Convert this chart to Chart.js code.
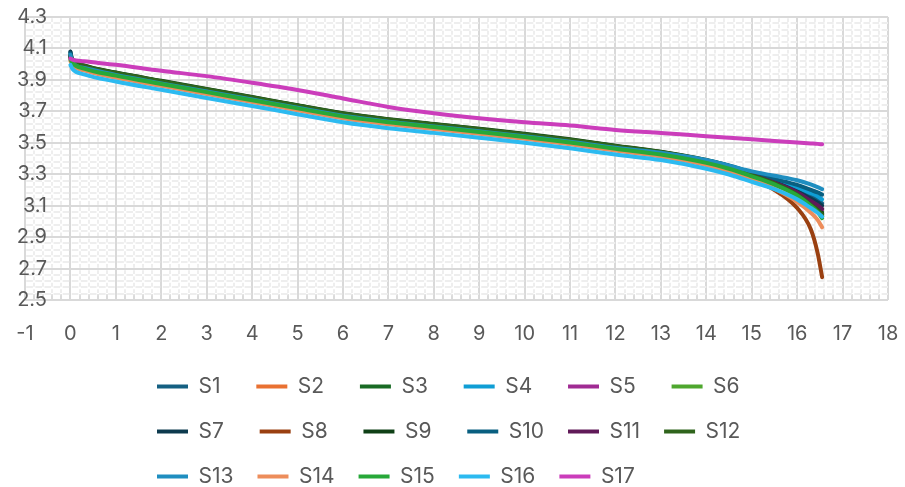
<!DOCTYPE html>
<html lang="en">
<head>
<meta charset="UTF-8">
<title>S1-S17</title>
<script src="https://cdn.jsdelivr.net/npm/chart.js@4/dist/chart.umd.min.js"></script>
<style>
  html, body { margin: 0; padding: 0; background: #fff; }
  .box { width: 905px; height: 487px; }
</style>
</head>
<body>
<div class="box"><canvas id="myChart"></canvas></div>
<script>
// x positions shared by all series
var xs = [0, 0.05, 0.3, 1, 2, 3, 4, 5, 6, 7, 8, 9, 10, 11, 12, 13, 14, 14.5, 15, 15.5, 16, 16.3, 16.45, 16.55];

var names = ["S1", "S2", "S3", "S4", "S5", "S6", "S7", "S8", "S9", "S10", "S11", "S12", "S13", "S14", "S15", "S16", "S17"];

var s1  = [4.078, 4.009, 3.976, 3.931, 3.878, 3.826, 3.775, 3.723, 3.672, 3.634, 3.604, 3.573, 3.541, 3.506, 3.466, 3.431, 3.385, 3.352, 3.300, 3.255, 3.200, 3.160, 3.138, 3.115];
var s2  = [4.045, 4.007, 3.974, 3.929, 3.876, 3.824, 3.773, 3.721, 3.670, 3.632, 3.602, 3.571, 3.539, 3.504, 3.464, 3.427, 3.375, 3.338, 3.288, 3.235, 3.160, 3.095, 3.060, 3.030];
var s3  = [4.050, 4.021, 3.988, 3.943, 3.890, 3.838, 3.787, 3.735, 3.684, 3.646, 3.616, 3.585, 3.553, 3.518, 3.478, 3.440, 3.386, 3.348, 3.296, 3.245, 3.180, 3.120, 3.090, 3.060];
var s4  = [4.060, 4.007, 3.974, 3.929, 3.876, 3.824, 3.773, 3.721, 3.670, 3.632, 3.602, 3.571, 3.539, 3.504, 3.464, 3.430, 3.382, 3.352, 3.305, 3.262, 3.215, 3.180, 3.160, 3.140];
var s5  = [4.050, 4.009, 3.976, 3.931, 3.878, 3.826, 3.775, 3.723, 3.672, 3.634, 3.604, 3.573, 3.541, 3.506, 3.466, 3.429, 3.380, 3.344, 3.294, 3.243, 3.180, 3.125, 3.098, 3.075];
var s6  = [4.040, 4.005, 3.972, 3.927, 3.874, 3.822, 3.771, 3.719, 3.668, 3.630, 3.600, 3.569, 3.537, 3.502, 3.462, 3.425, 3.374, 3.337, 3.289, 3.237, 3.168, 3.105, 3.068, 3.035];
var s7  = [4.080, 4.011, 3.978, 3.933, 3.880, 3.828, 3.777, 3.725, 3.674, 3.636, 3.606, 3.575, 3.543, 3.508, 3.468, 3.432, 3.386, 3.350, 3.298, 3.250, 3.190, 3.145, 3.120, 3.100];
var s8  = [4.040, 4.001, 3.968, 3.923, 3.870, 3.818, 3.767, 3.715, 3.664, 3.626, 3.596, 3.565, 3.533, 3.498, 3.458, 3.421, 3.366, 3.322, 3.265, 3.200, 3.085, 2.950, 2.800, 2.645];
var s9  = [4.055, 4.025, 3.992, 3.947, 3.894, 3.842, 3.791, 3.739, 3.688, 3.650, 3.620, 3.589, 3.557, 3.522, 3.482, 3.443, 3.390, 3.352, 3.298, 3.245, 3.175, 3.110, 3.078, 3.050];
var s10 = [4.070, 4.009, 3.976, 3.931, 3.878, 3.826, 3.775, 3.723, 3.672, 3.634, 3.604, 3.573, 3.541, 3.506, 3.466, 3.432, 3.388, 3.356, 3.310, 3.270, 3.232, 3.200, 3.184, 3.170];
var s11 = [4.050, 4.009, 3.976, 3.931, 3.878, 3.826, 3.775, 3.723, 3.672, 3.634, 3.604, 3.573, 3.541, 3.506, 3.466, 3.429, 3.382, 3.346, 3.296, 3.246, 3.185, 3.130, 3.103, 3.080];
var s12 = [4.055, 4.023, 3.990, 3.945, 3.892, 3.840, 3.789, 3.737, 3.686, 3.648, 3.618, 3.587, 3.555, 3.520, 3.480, 3.441, 3.388, 3.350, 3.296, 3.242, 3.170, 3.105, 3.072, 3.045];
var s13 = [4.060, 4.009, 3.976, 3.931, 3.878, 3.826, 3.775, 3.723, 3.672, 3.634, 3.604, 3.573, 3.541, 3.506, 3.468, 3.436, 3.390, 3.355, 3.318, 3.290, 3.262, 3.235, 3.218, 3.205];
var s14 = [4.020, 3.993, 3.960, 3.915, 3.862, 3.810, 3.759, 3.707, 3.656, 3.618, 3.588, 3.557, 3.525, 3.490, 3.450, 3.412, 3.358, 3.318, 3.268, 3.208, 3.125, 3.055, 3.010, 2.962];
var s15 = [4.030, 4.005, 3.972, 3.927, 3.874, 3.822, 3.771, 3.719, 3.668, 3.630, 3.600, 3.569, 3.537, 3.502, 3.462, 3.425, 3.372, 3.335, 3.287, 3.235, 3.165, 3.100, 3.060, 3.020];
var s16 = [3.995, 3.968, 3.935, 3.890, 3.837, 3.785, 3.734, 3.682, 3.631, 3.593, 3.563, 3.532, 3.500, 3.465, 3.425, 3.390, 3.335, 3.298, 3.252, 3.205, 3.140, 3.085, 3.055, 3.030];
var s17 = [4.035, 4.028, 4.018, 3.996, 3.958, 3.924, 3.882, 3.836, 3.782, 3.728, 3.688, 3.656, 3.630, 3.610, 3.582, 3.562, 3.542, 3.532, 3.522, 3.512, 3.502, 3.496, 3.493, 3.490];

var series = [s1, s2, s3, s4, s5, s6, s7, s8, s9, s10, s11, s12, s13, s14, s15, s16, s17];

// labelled ticks (the grid also has 5 minor steps between them)
var xLabels = [-1, 0, 1, 2, 3, 4, 5, 6, 7, 8, 9, 10, 11, 12, 13, 14, 15, 16, 17, 18];
var yLabels = [2.5, 2.7, 2.9, 3.1, 3.3, 3.5, 3.7, 3.9, 4.1, 4.3];

var colors = ["#156082", "#E97132", "#196B24", "#0F9ED5", "#A02B93", "#4EA72E",
              "#0D3A4E", "#9A4011", "#0F4016", "#095F80", "#601A58", "#2F641C",
              "#1F8EC0", "#ED8D5B", "#27A839", "#2CBAF0", "#CB3DBB"];

var FONT = "Inter, 'Liberation Sans', sans-serif";
var TXT = "#595959";

function onList(v, list) {
	return list.some(function (t) { return Math.abs(t - v) < 1e-6; });
}

var sets = [];
for (var i = 0; i < names.length; i++) {
	var ys = series[i];
	sets.push({
		label: names[i],
		data: xs.map(function (x, k) { return {x: x, y: ys[k]}; }),
		borderColor: colors[i],
		backgroundColor: colors[i],
		borderWidth: 4,
		borderCapStyle: "round",
		borderJoinStyle: "round",
		pointRadius: 0,
		pointHoverRadius: 0,
		cubicInterpolationMode: "monotone",
		order: names.length - i   // later series drawn on top, like the original
	});
}

// legend sits lower and starts from the left like the original
var legendPlace = {
	id: "legendPlace",
	afterLayout: function (chart) {
		var lg = chart.legend;
		lg.top += 10;
		lg.bottom += 10;
		lg.left = 133;
		lg.right = 860;
	}
};

// y values are written over the left edge of the plot, as in the original
var yValueText = {
	id: "yValueText",
	afterDraw: function (chart) {
		var ya = chart.scales.y, c = chart.ctx;
		c.save();
		c.font = "20px " + FONT;
		c.fillStyle = TXT;
		c.textAlign = "right";
		c.textBaseline = "middle";
		yLabels.forEach(function (v) {
			c.fillText(v.toFixed(1), chart.chartArea.left + 22, ya.getPixelForValue(v));
		});
		c.restore();
	}
};

var myChart = new Chart(document.getElementById("myChart"), {
	type: "line",
	data: {datasets: sets},
	plugins: [legendPlace, yValueText],
	options: {
		responsive: true,
		maintainAspectRatio: false,
		animation: false,
		layout: {padding: {left: 25, top: 17, right: 17, bottom: 0}},
		plugins: {
			tooltip: {enabled: false},
			legend: {
				position: "bottom",
				align: "start",
				labels: {
					usePointStyle: true,
					pointStyle: "line",
					pointStyleWidth: 31,
					padding: 24,
					color: TXT,
					font: {family: FONT, size: 21},
					sort: function (a, b) { return a.datasetIndex - b.datasetIndex; },
					generateLabels: function (chart) {
						var items = Chart.defaults.plugins.legend.labels.generateLabels(chart);
						items.forEach(function (it) { if (it.text.length < 3) it.text += "  "; });
						return items;
					}
				}
			}
		},
		scales: {
			x: {
				type: "linear",
				min: xLabels[0],
				max: xLabels[xLabels.length - 1],
				afterFit: function (s) { s.height = 42; s.paddingLeft = 0; s.paddingRight = 0; },
				border: {
					display: false,
					dash: function (c) { return onList(c.tick ? c.tick.value : NaN, xLabels) || c.index === undefined ? [] : [3.8, 2.5]; },
					dashOffset: 5.05
				},
				grid: {
					color: function (c) { return c.tick && onList(c.tick.value, xLabels) ? "#D9D9D9" : "#EEEEEE"; },
					lineWidth: 2,
					drawTicks: true,
					tickLength: -6,
					tickWidth: 1,
					tickColor: function (c) { return c.tick && onList(c.tick.value, xLabels) ? "#D9D9D9" : "#C8C8C8"; }
				},
				ticks: {
					stepSize: 0.2,
					autoSkip: false,
					maxRotation: 0,
					padding: 28,
					color: TXT,
					font: {family: FONT, size: 20},
					callback: function (v) { return onList(v, xLabels) ? String(Math.round(v)) : ""; }
				}
			},
			y: {
				min: yLabels[0],
				max: yLabels[yLabels.length - 1],
				afterFit: function (s) { s.width = 0; s.paddingTop = 0; s.paddingBottom = 0; },
				border: {
					display: false,
					dash: function (c) { return onList(c.tick ? c.tick.value : NaN, yLabels) || c.index === undefined ? [] : [6.6, 2.5]; },
					dashOffset: 7.85
				},
				grid: {
					color: function (c) { return c.tick && onList(c.tick.value, yLabels) ? "#D9D9D9" : "#EEEEEE"; },
					lineWidth: 2,
					drawTicks: false
				},
				ticks: {
					stepSize: 0.04,
					autoSkip: false,
					display: false
				}
			}
		}
	}
});
</script>
</body>
</html>
